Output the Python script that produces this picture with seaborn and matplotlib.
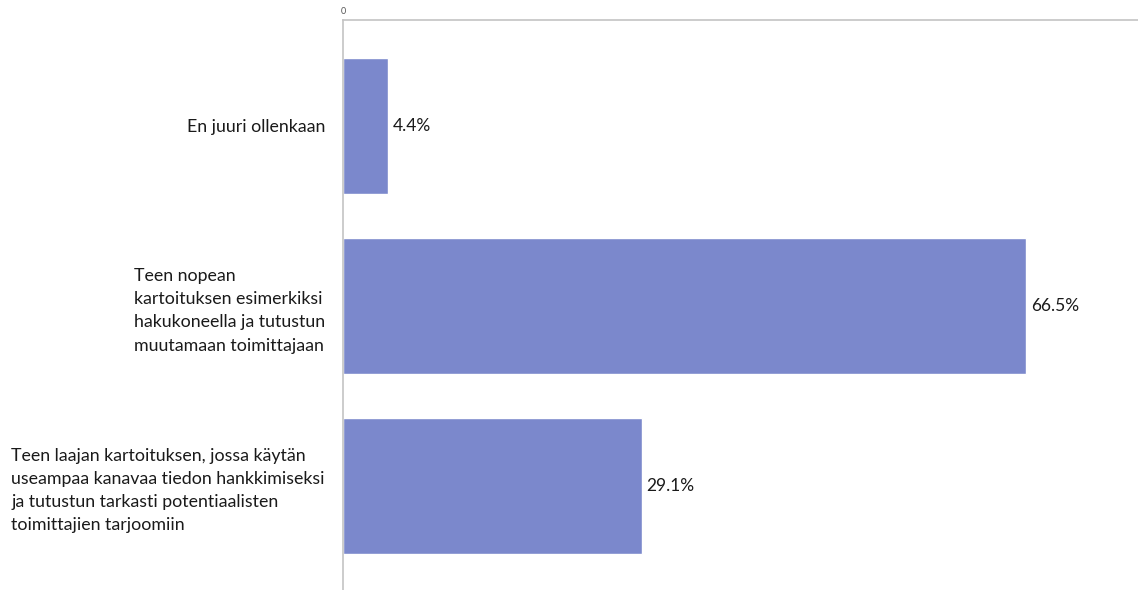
import matplotlib
matplotlib.use("Agg")
import matplotlib.pyplot as plt
import seaborn as sns
import pandas as pd

categories = [
    "En juuri ollenkaan",
    "Teen nopean\nkartoituksen esimerkiksi\nhakukoneella ja tutustun\nmuutamaan toimittajaan",
    "Teen laajan kartoituksen, jossa käytän\nuseampaa kanavaa tiedon hankkimiseksi\nja tutustun tarkasti potentiaalisten\ntoimittajien tarjoomiin",
]
values = [4.4, 66.5, 29.1]
value_labels = ["4.4%", "66.5%", "29.1%"]

sns.set_theme(style="white")
plt.rcParams["font.family"] = ["Lato", "DejaVu Sans"]

df = pd.DataFrame({"category": categories, "value": values})

fig = plt.figure(figsize=(11.38, 5.90), dpi=100)
ax = fig.add_axes([343 / 1138, 0.0, 1 - 343 / 1138, 1 - 20 / 590])

sns.barplot(data=df, x="value", y="category", color="#7b88cc", width=0.756,
            saturation=1, ax=ax)

ax.set_xlim(0, 77.4)
ax.set_ylim(2.58, -0.589)

for i, (v, lab) in enumerate(zip(values, value_labels)):
    ax.text(v + 0.45, i, lab, va="center", ha="left", fontsize=12.5, color="#1a1a1a")

ax.xaxis.tick_top()
ax.set_xticks([0])
ax.set_xticklabels(["0"])
ax.tick_params(axis="x", length=0, pad=3, labelsize=6.5, labelcolor="#555555")
ax.tick_params(axis="y", length=0, pad=13, labelsize=12.8, labelcolor="#1a1a1a")
for t in ax.get_yticklabels():
    t.set_multialignment("left")
    t.set_linespacing(1.55)
ax.set_xlabel("")
ax.set_ylabel("")

for side in ["right", "bottom"]:
    ax.spines[side].set_visible(False)
for side in ["top", "left"]:
    ax.spines[side].set_color("#c4c4c4")
    ax.spines[side].set_linewidth(1.2)

fig.savefig("out.png", dpi=100)
